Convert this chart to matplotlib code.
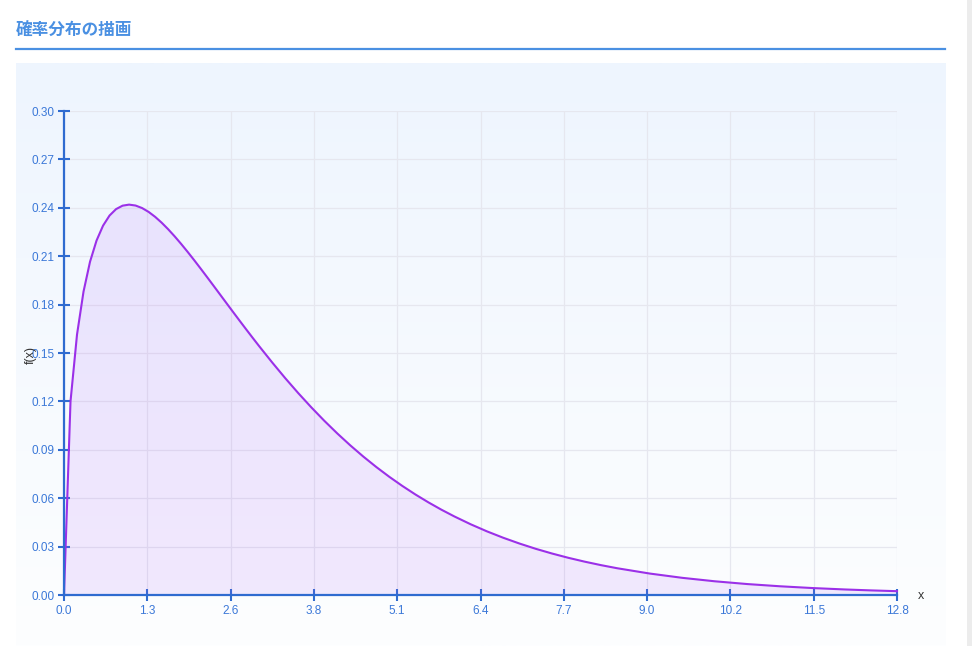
import numpy as np
import matplotlib
matplotlib.use("Agg")
import matplotlib.pyplot as plt
from matplotlib.patches import Rectangle
from matplotlib.lines import Line2D
from matplotlib.colors import LinearSegmentedColormap

plt.rcParams['font.family'] = ['Noto Sans CJK JP', 'DejaVu Sans']

title = "確率分布の描画"
x_label = "x"
y_label = "f(x)"

x_vals = [0.0, 0.1, 0.2, 0.3, 0.4, 0.5, 0.6, 0.7, 0.8, 0.9, 1.0,
          1.1, 1.2, 1.3, 1.4, 1.5, 1.6, 1.7, 1.8, 1.9, 2.0,
          2.1, 2.2, 2.3, 2.4, 2.5, 2.6, 2.7, 2.8, 2.9, 3.0,
          3.2, 3.4, 3.6, 3.8, 4.0, 4.2, 4.4, 4.6, 4.8, 5.0,
          5.2, 5.4, 5.6, 5.8, 6.0, 6.25, 6.5, 6.75, 7.0, 7.25, 7.5, 7.75, 8.0, 8.25,
          8.5, 9.0, 9.5, 10.0, 10.5, 11.0, 11.5, 12.0, 12.4, 12.8]
y_vals = [0.0, 0.12001, 0.16143, 0.18807, 0.20658, 0.21969, 0.22893, 0.23521, 0.23919, 0.24132, 0.24197,
          0.24140, 0.23984, 0.23746, 0.23441, 0.23080, 0.22674, 0.22232, 0.21761, 0.21267, 0.20756,
          0.20231, 0.19697, 0.19158, 0.18615, 0.18072, 0.17531, 0.16994, 0.16462, 0.15936, 0.15418,
          0.14409, 0.13438, 0.12512, 0.11632, 0.10798, 0.10012, 0.09272, 0.08578, 0.07929, 0.07322,
          0.06757, 0.06230, 0.05741, 0.05286, 0.04866, 0.04382, 0.03943, 0.03547, 0.03188, 0.02862,
          0.02570, 0.02305, 0.02067, 0.01852,
          0.01659, 0.01330, 0.01064, 0.00850, 0.00678, 0.00541, 0.00431, 0.00343, 0.00285, 0.00237]

x_ticks = [0.0, 1.28, 2.56, 3.84, 5.12, 6.4, 7.68, 8.96, 10.24, 11.52, 12.8]
x_tick_labels = ["0.0", "1.3", "2.6", "3.8", "5.1", "6.4", "7.7", "9.0", "10.2", "11.5", "12.8"]
y_ticks = [0.00, 0.03, 0.06, 0.09, 0.12, 0.15, 0.18, 0.21, 0.24, 0.27, 0.30]
y_tick_labels = ["0.00", "0.03", "0.06", "0.09", "0.12", "0.15", "0.18", "0.21", "0.24", "0.27", "0.30"]

W, H = 972, 646
fig = plt.figure(figsize=(W / 100, H / 100), dpi=100)
fig.patch.set_facecolor("white")

def fx(px):
    return px / W

def fy(py):
    return 1 - py / H

# panel gradient background
bg = fig.add_axes([fx(16), fy(646), fx(945) - fx(16), fy(63) - fy(646)])
bg.set_axis_off()
grad = np.linspace(0, 1, 256).reshape(-1, 1)
cmap = LinearSegmentedColormap.from_list("g", ["#fdfeff", "#eef5fe"])
bg.imshow(grad, aspect="auto", cmap=cmap, origin="lower", extent=[0, 1, 0, 1])
bg.set_xlim(0, 1)
bg.set_ylim(0, 1)

# scrollbar strip
fig.patches.append(Rectangle((fx(967), 0), fx(972) - fx(967), 1, transform=fig.transFigure,
                             facecolor="#ececec", edgecolor="none"))

# title and underline
fig.text(fx(16), fy(30), title, color="#4a90e2", fontsize=12, fontweight="bold",
         ha="left", va="center")
fig.lines.append(Line2D([fx(16), fx(945)], [fy(48.5), fy(48.5)], transform=fig.transFigure,
                        color="#4a90e2", linewidth=1.6))

ax = fig.add_axes([fx(64), fy(595), fx(897) - fx(64), fy(111) - fy(595)])
ax.set_facecolor("none")
ax.set_xlim(0, 12.8)
ax.set_ylim(0, 0.30)

ax.fill_between(x_vals, y_vals, 0, color="#a855f7", alpha=0.12, linewidth=0, zorder=2)
ax.plot(x_vals, y_vals, color="#9b30e8", linewidth=1.5, zorder=3, clip_on=False,
        solid_joinstyle="round")

ax.set_xticks(x_ticks)
ax.set_xticklabels(x_tick_labels, family=["Liberation Sans", "DejaVu Sans"])
ax.set_yticks(y_ticks)
ax.set_yticklabels(y_tick_labels, family=["Liberation Sans", "DejaVu Sans"])
ax.grid(True, color="#e6e7ef", linewidth=0.9, zorder=0)
ax.set_axisbelow(True)

axis_color = "#2f6bd0"
for side in ["top", "right"]:
    ax.spines[side].set_visible(False)
for side in ["left", "bottom"]:
    ax.spines[side].set_color(axis_color)
    ax.spines[side].set_linewidth(1.6)
    ax.spines[side].set_zorder(4)
ax.tick_params(axis="both", direction="inout", length=8, width=1.5, color=axis_color,
               labelcolor="#3b78d8", labelsize=8.5, pad=3)

fig.text(fx(921), fy(596), x_label, color="#333333", fontsize=9, ha="center", va="center",
         family=["Liberation Sans", "DejaVu Sans"])
fig.text(fx(31), fy(355), y_label, color="#333333", fontsize=9, ha="center", va="center",
         rotation=90, family=["Liberation Sans", "DejaVu Sans"])

fig.savefig("out.png", dpi=100)
